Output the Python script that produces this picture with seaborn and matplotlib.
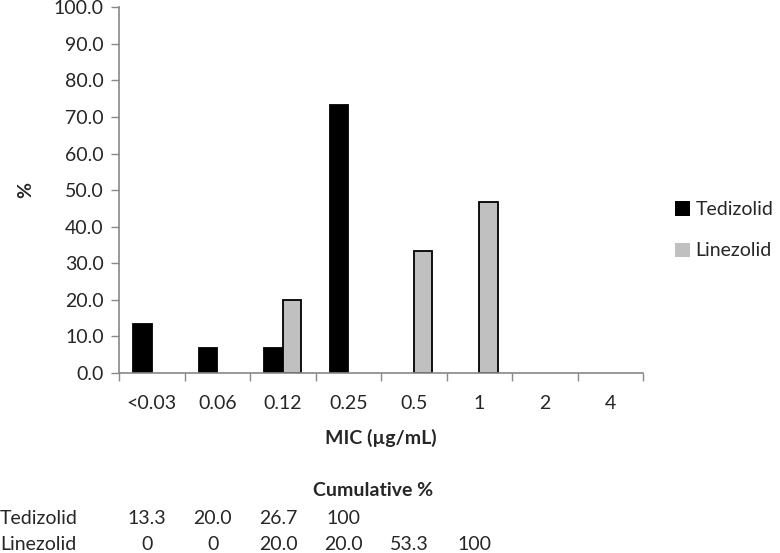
import matplotlib
matplotlib.use("Agg")
import matplotlib.pyplot as plt
import matplotlib.transforms as mtransforms
from matplotlib.ticker import FixedLocator, FormatStrFormatter
import seaborn as sns
import pandas as pd

mic = ['<0.03', '0.06', '0.12', '0.25', '0.5', '1', '2', '4']
tedizolid = [13.3, 6.7, 6.7, 73.3, 0, 0, 0, 0]
linezolid = [0, 0, 20.0, 0, 33.3, 46.7, 0, 0]
cum_tedizolid = ['13.3', '20.0', '26.7', '100']
cum_linezolid = ['0', '0', '20.0', '20.0', '53.3', '100']

df = pd.DataFrame({
    'MIC': mic * 2,
    'pct': tedizolid + linezolid,
    'drug': ['Tedizolid'] * len(mic) + ['Linezolid'] * len(mic),
})

sns.set_style("white")
plt.rcParams['font.family'] = ['Lato', 'DejaVu Sans']
fs = 14

fig = plt.figure(figsize=(7.8, 5.53), dpi=100)
ax = fig.add_axes([0.1526, 0.3255, 0.6718, 0.6615])

sns.barplot(data=df, x='MIC', y='pct', hue='drug', order=mic,
            palette={'Tedizolid': '#000000', 'Linezolid': '#c0c0c0'},
            width=0.56, edgecolor='black', linewidth=1.3, ax=ax)
# empty bins: no outline at zero
for p in ax.patches:
    if p.get_height() == 0:
        p.set_linewidth(0)

ax.set_xlim(-0.5, len(mic) - 0.5)
ax.set_ylim(0, 100)
ax.set_yticks(range(0, 101, 10))
ax.yaxis.set_major_formatter(FormatStrFormatter('%.1f'))
ax.xaxis.set_minor_locator(FixedLocator([i - 0.5 for i in range(len(mic) + 1)]))
ax.tick_params(axis='x', which='major', length=0, labelsize=fs, pad=16)
ax.tick_params(axis='x', which='minor', length=6, width=1, color='#888888', direction='out')
ax.tick_params(axis='y', length=6, width=1, color='#888888', direction='out', labelsize=fs, pad=5)
ax.xaxis.set_ticks_position('bottom')
ax.yaxis.set_ticks_position('left')

sns.despine(ax=ax)
for s in ['left', 'bottom']:
    ax.spines[s].set_color('#888888')
    ax.spines[s].set_linewidth(1.2)

ax.set_xlabel('MIC (µg/mL)', fontsize=fs, fontweight='bold', labelpad=12)
ax.set_ylabel('%', fontsize=fs, fontweight='bold', labelpad=14)

leg = ax.legend(loc='center left', bbox_to_anchor=(1.028, 0.39), frameon=False,
                fontsize=fs, handlelength=0.75, handleheight=0.75,
                labelspacing=1.25, handletextpad=0.3)

# cumulative table below the chart
trans = mtransforms.blended_transform_factory(ax.transData, fig.transFigure)
fig.text(0.478, 1 - 491 / 553, 'Cumulative %', ha='center', va='center',
         fontsize=fs, fontweight='bold')
for row, (name, vals) in enumerate([('Tedizolid', cum_tedizolid), ('Linezolid', cum_linezolid)]):
    yy = 1 - (518 + row * 26) / 553
    fig.text(0.0, yy, name, ha='left', va='center', fontsize=fs)
    for i, v in enumerate(vals):
        ax.text(i - 0.07, yy, v, transform=trans, ha='center', va='center', fontsize=fs)

fig.savefig('out.png', dpi=100)
